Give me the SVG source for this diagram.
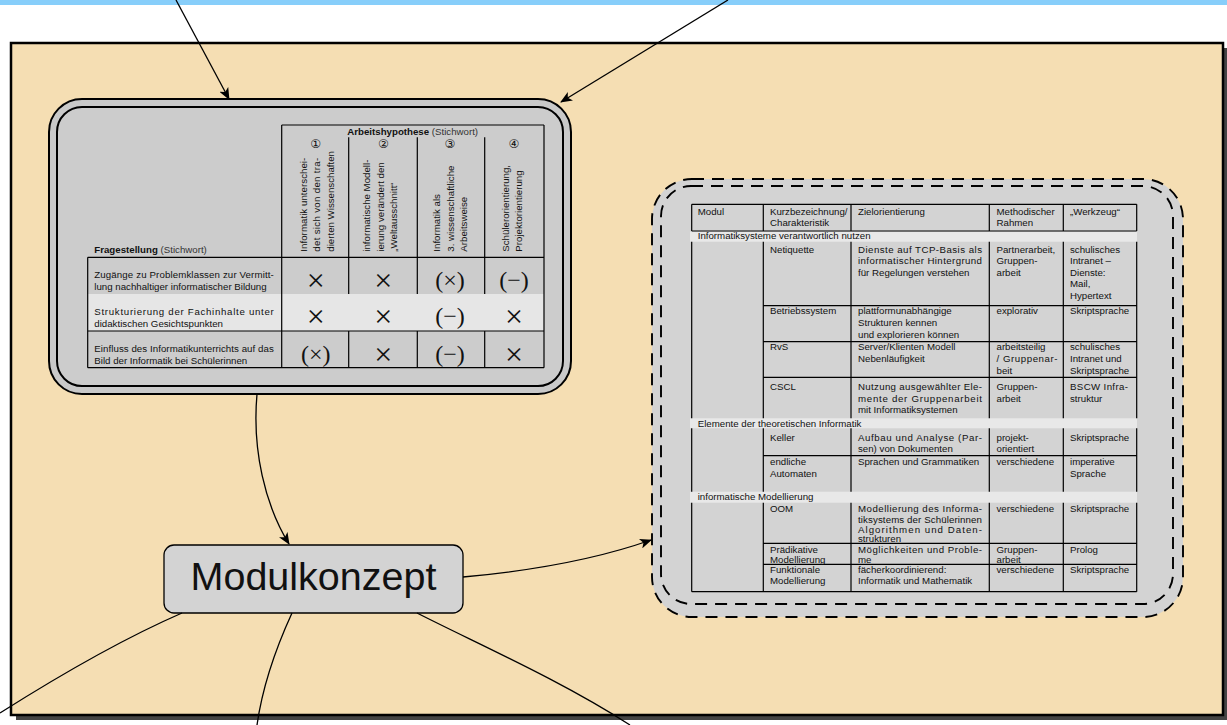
<svg xmlns="http://www.w3.org/2000/svg" width="1227" height="725" viewBox="0 0 1227 725">
<style>
.t{font-family:"Liberation Sans",Arial,sans-serif;font-size:9.7px;fill:#111}
.tb{font-weight:bold}
.g{fill:#333}
.sym{font-family:"Liberation Serif","Times New Roman",serif;fill:#111;text-anchor:middle}
.x{font-size:32px}
.p{font-size:24px}
.c{font-family:"DejaVu Sans","Noto Sans CJK SC",sans-serif;font-size:12px;fill:#111;text-anchor:middle}
.ln{stroke:#000;stroke-width:1.2;fill:none}
.cn{stroke:#000;stroke-width:1.3;fill:none}
.dash{fill:none;stroke:#000;stroke-width:1.9;stroke-dasharray:12 8}
</style>
<defs>
<marker id="ah" markerWidth="12" markerHeight="10" refX="11" refY="5" orient="auto" markerUnits="userSpaceOnUse">
<path d="M0,0 L12,5 L0,10 L3,5 z" fill="#000"/>
</marker>
</defs>
<rect x="0" y="0" width="1227" height="725" fill="#fff"/>
<rect x="0" y="0" width="1227" height="5" fill="#87CEFA"/>

<g id="frame">
<rect x="16" y="48" width="1213" height="672" fill="#444"/>
<rect x="11" y="43" width="1212" height="672" fill="#F5DEB3" stroke="#000" stroke-width="2.5"/>
</g>

<g id="node-hypothesen">
<rect x="49" y="99" width="522" height="295" rx="33" fill="#C9C9C9" stroke="#000" stroke-width="2"/>
<rect x="57" y="107" width="506" height="279" rx="25" fill="#CCCCCC" stroke="#000" stroke-width="2"/>
<rect x="87.7" y="294" width="456.3" height="37" fill="#E6E6E6"/>
<path class="ln" d="M281.7,125 H544 M281.7,125 V367.7 M544,125 V294 M544,331 V367.7 M87.7,257.3 V367.7 M87.7,257.3 H544 M87.7,331 H544 M87.7,367.7 H544 M348.7,137.3 V294 M417.3,137.3 V294 M484.7,137.3 V294 M348.7,331 V367.7 M417.3,331 V367.7 M484.7,331 V367.7 M544,294 V331"/>
<text class="t" x="412.7" y="135" text-anchor="middle"><tspan class="tb">Arbeitshypothese</tspan><tspan class="g"> (Stichwort)</tspan></text>
<text class="c" x="315.7" y="148">①</text>
<text class="c" x="383.3" y="148">②</text>
<text class="c" x="450" y="148">③</text>
<text class="c" x="514" y="148">④</text>
<text class="t" transform="translate(306.5,251.7) rotate(-90)" textLength="94" lengthAdjust="spacing">Informatik unterschei-</text>
<text class="t" transform="translate(320,251.7) rotate(-90)" textLength="94" lengthAdjust="spacing">det sich von den tra-</text>
<text class="t" transform="translate(333.5,251.7) rotate(-90)">dierten Wissenschaften</text>
<text class="t" transform="translate(370,251.7) rotate(-90)">informatische Modell-</text>
<text class="t" transform="translate(383.5,251.7) rotate(-90)">ierung verändert den</text>
<text class="t" transform="translate(397,251.7) rotate(-90)">„Weltausschnitt“</text>
<text class="t" transform="translate(440,251.7) rotate(-90)">Informatik als</text>
<text class="t" transform="translate(453.5,251.7) rotate(-90)">3. wissenschaftliche</text>
<text class="t" transform="translate(467,251.7) rotate(-90)">Arbeitsweise</text>
<text class="t" transform="translate(508.5,251.7) rotate(-90)">Schülerorientierung,</text>
<text class="t" transform="translate(522,251.7) rotate(-90)">Projektorientierung</text>
<text class="t" x="94.3" y="253"><tspan class="tb">Fragestellung</tspan><tspan class="g"> (Stichwort)</tspan></text>
<text class="t" x="94.3" y="278.3" textLength="179.5" lengthAdjust="spacing">Zugänge zu Problemklassen zur Vermitt-</text>
<text class="t" x="94.3" y="290">lung nachhaltiger informatischer Bildung</text>
<text class="t" x="94.3" y="315.3" textLength="179.5" lengthAdjust="spacing">Strukturierung der Fachinhalte unter</text>
<text class="t" x="94.3" y="326.6">didaktischen Gesichtspunkten</text>
<text class="t" x="94.3" y="352.3" textLength="179.5" lengthAdjust="spacing">Einfluss des Informatikunterrichts auf das</text>
<text class="t" x="94.3" y="364">Bild der Informatik bei Schülerinnen</text>
<text class="sym x" x="315.7" y="290.7">×</text>
<text class="sym x" x="383.3" y="290.7">×</text>
<text class="sym p" x="450" y="287.7">(×)</text>
<text class="sym p" x="514" y="287.7">(−)</text>
<text class="sym x" x="315.7" y="327.3">×</text>
<text class="sym x" x="383.3" y="327.3">×</text>
<text class="sym p" x="450" y="324.3">(−)</text>
<text class="sym x" x="514" y="327.3">×</text>
<text class="sym p" x="315.7" y="362">(×)</text>
<text class="sym x" x="383.3" y="365">×</text>
<text class="sym p" x="450" y="362">(−)</text>
<text class="sym x" x="514" y="365">×</text>
</g>

<g id="node-module">
<rect x="652" y="179" width="531" height="438" rx="40" fill="#D3D3D3"/>
<rect x="652" y="179" width="531" height="438" rx="40" class="dash"/>
<rect x="661" y="186" width="512" height="418" rx="30" class="dash"/>
<rect x="690" y="231.6" width="447" height="10.1" fill="#E8E8E8"/>
<rect x="690" y="418.3" width="447" height="10" fill="#E8E8E8"/>
<rect x="690" y="491.7" width="447" height="11" fill="#E8E8E8"/>
<path class="ln" d="M691.7,204.3 H1136.7 M691.7,231 H1136.7 M691.7,591.7 H1136.7
M691.7,204.3 V231 M763.3,204.3 V231 M851,204.3 V231 M989.3,204.3 V231 M1063.3,204.3 V231 M1136.7,204.3 V231
M691.7,241.7 V418.3 M763.3,241.7 V418.3 M851,241.7 V418.3 M989.3,241.7 V418.3 M1063.3,241.7 V418.3 M1136.7,241.7 V418.3
M691.7,428.3 V491.7 M763.3,428.3 V491.7 M851,428.3 V491.7 M989.3,428.3 V491.7 M1063.3,428.3 V491.7 M1136.7,428.3 V491.7
M691.7,502.7 V591.7 M763.3,502.7 V591.7 M851,502.7 V591.7 M989.3,502.7 V591.7 M1063.3,502.7 V591.7 M1136.7,502.7 V591.7
M763.3,305.7 H1136.7 M763.3,341.7 H1136.7 M763.3,377.3 H1136.7 M763.3,455.7 H1136.7 M763.3,543.3 H1136.7 M763.3,564.3 H1136.7"/>
<text class="t" x="697.7" y="215">Modul</text>
<text class="t" x="770" y="215">Kurzbezeichnung/</text>
<text class="t" x="770" y="226">Charakteristik</text>
<text class="t" x="858" y="215">Zielorientierung</text>
<text class="t" x="996.5" y="215">Methodischer</text>
<text class="t" x="996.5" y="226">Rahmen</text>
<text class="t" x="1070" y="215">„Werkzeug“</text>
<text class="t" x="697.7" y="239.3">Informatiksysteme verantwortlich nutzen</text>
<text class="t" x="770" y="252.6">Netiquette</text>
<text class="t" x="858" y="252.6" textLength="124" lengthAdjust="spacing">Dienste auf TCP-Basis als</text>
<text class="t" x="858" y="264.1" textLength="124" lengthAdjust="spacing">informatischer Hintergrund</text>
<text class="t" x="858" y="275.6">für Regelungen verstehen</text>
<text class="t" x="996.5" y="252.6">Partnerarbeit,</text>
<text class="t" x="996.5" y="264.1">Gruppen-</text>
<text class="t" x="996.5" y="275.6">arbeit</text>
<text class="t" x="1070" y="252.6">schulisches</text>
<text class="t" x="1070" y="264.1">Intranet –</text>
<text class="t" x="1070" y="275.6">Dienste:</text>
<text class="t" x="1070" y="287.1">Mail,</text>
<text class="t" x="1070" y="298.6">Hypertext</text>
<text class="t" x="770" y="314.3">Betriebssystem</text>
<text class="t" x="858" y="314.3">plattformunabhängige</text>
<text class="t" x="858" y="326">Strukturen kennen</text>
<text class="t" x="858" y="337.7">und explorieren können</text>
<text class="t" x="996.5" y="314.3">explorativ</text>
<text class="t" x="1070" y="314.3">Skriptsprache</text>
<text class="t" x="770" y="350">RvS</text>
<text class="t" x="858" y="350">Server/Klienten Modell</text>
<text class="t" x="858" y="362.2">Nebenläufigkeit</text>
<text class="t" x="996.5" y="350">arbeitsteilig</text>
<text class="t" x="996.5" y="362.2" textLength="61" lengthAdjust="spacing">/ Gruppenar-</text>
<text class="t" x="996.5" y="374.4">beit</text>
<text class="t" x="1070" y="350">schulisches</text>
<text class="t" x="1070" y="362.2">Intranet und</text>
<text class="t" x="1070" y="374.4">Skriptsprache</text>
<text class="t" x="770" y="390">CSCL</text>
<text class="t" x="858" y="390" textLength="124" lengthAdjust="spacing">Nutzung ausgewählter Ele-</text>
<text class="t" x="858" y="401.6" textLength="124" lengthAdjust="spacing">mente der Gruppenarbeit</text>
<text class="t" x="858" y="413.3">mit Informatiksystemen</text>
<text class="t" x="996.5" y="390">Gruppen-</text>
<text class="t" x="996.5" y="401.6">arbeit</text>
<text class="t" x="1070" y="390" textLength="58" lengthAdjust="spacing">BSCW Infra-</text>
<text class="t" x="1070" y="401.6">struktur</text>
<text class="t" x="697.7" y="426.6">Elemente der theoretischen Informatik</text>
<text class="t" x="770" y="440.6">Keller</text>
<text class="t" x="858" y="440.6" textLength="124" lengthAdjust="spacing">Aufbau und Analyse (Par-</text>
<text class="t" x="858" y="452.3">sen) von Dokumenten</text>
<text class="t" x="996.5" y="440.6">projekt-</text>
<text class="t" x="996.5" y="452.3">orientiert</text>
<text class="t" x="1070" y="440.6">Skriptsprache</text>
<text class="t" x="770" y="465">endliche</text>
<text class="t" x="770" y="477">Automaten</text>
<text class="t" x="858" y="465">Sprachen und Grammatiken</text>
<text class="t" x="996.5" y="465">verschiedene</text>
<text class="t" x="1070" y="465">imperative</text>
<text class="t" x="1070" y="477">Sprache</text>
<text class="t" x="697.7" y="500">informatische Modellierung</text>
<text class="t" x="770" y="512.3">OOM</text>
<text class="t" x="858" y="512.3" textLength="124" lengthAdjust="spacing">Modellierung des Informa-</text>
<text class="t" x="858" y="522.6" textLength="124" lengthAdjust="spacing">tiksystems der Schülerinnen</text>
<text class="t" x="858" y="532.6" textLength="124" lengthAdjust="spacing">Algorithmen und Daten-</text>
<text class="t" x="858" y="541.8">strukturen</text>
<text class="t" x="996.5" y="512.3">verschiedene</text>
<text class="t" x="1070" y="512.3">Skriptsprache</text>
<text class="t" x="770" y="553">Prädikative</text>
<text class="t" x="770" y="563">Modellierung</text>
<text class="t" x="858" y="553" textLength="124" lengthAdjust="spacing">Möglichkeiten und Proble-</text>
<text class="t" x="858" y="563">me</text>
<text class="t" x="996.5" y="553">Gruppen-</text>
<text class="t" x="996.5" y="563">arbeit</text>
<text class="t" x="1070" y="553">Prolog</text>
<text class="t" x="770" y="573">Funktionale</text>
<text class="t" x="770" y="583.5">Modellierung</text>
<text class="t" x="858" y="573">fächerkoordinierend:</text>
<text class="t" x="858" y="583.5">Informatik und Mathematik</text>
<text class="t" x="996.5" y="573">verschiedene</text>
<text class="t" x="1070" y="573">Skriptsprache</text>
</g>

<g id="node-modulkonzept">
<rect x="164" y="545" width="299" height="68" rx="10" fill="#D3D3D3" stroke="#000" stroke-width="1.3"/>
<text x="313.5" y="590" text-anchor="middle" style="font-family:'Liberation Sans',Arial,sans-serif;font-size:39.5px;fill:#111">Modulkonzept</text>
</g>

<g id="connectors">
<path class="cn" d="M176,0 L229,99" marker-end="url(#ah)"/>
<path class="cn" d="M728,0 L561,102" marker-end="url(#ah)"/>
<path class="cn" d="M257,394 C252,450 265,505 289,544" marker-end="url(#ah)"/>
<path class="cn" d="M463,577 C540,570 600,558 651,540" marker-end="url(#ah)"/>
<path class="cn" d="M182,613 C120,640 60,675 0,713"/>
<path class="cn" d="M292,613 C275,650 262,690 257,725"/>
<path class="cn" d="M417,613 C480,645 560,680 630,725"/>
</g>
</svg>
